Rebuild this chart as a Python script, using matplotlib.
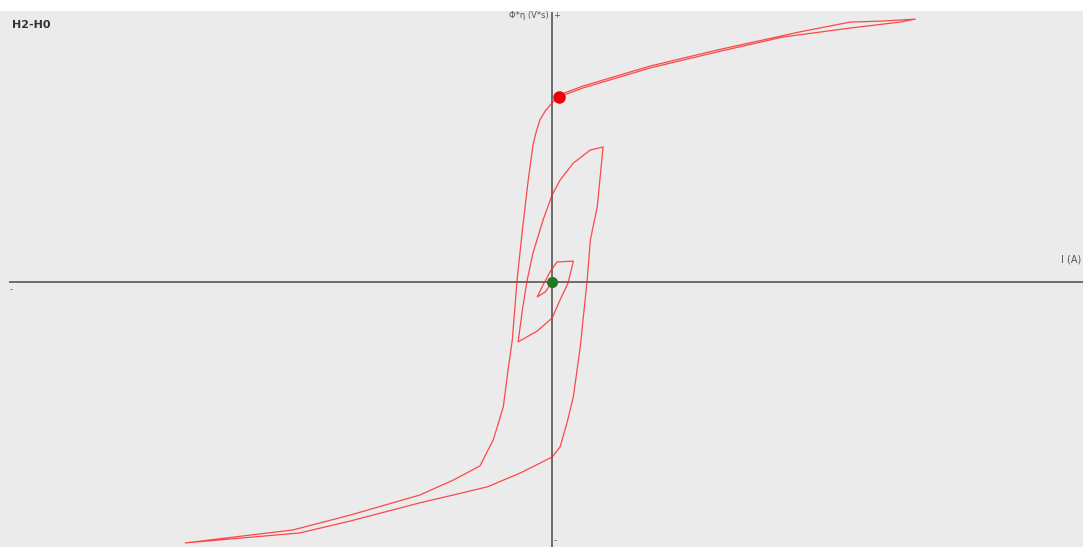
import matplotlib
matplotlib.use("Agg")
import matplotlib.pyplot as plt

# hysteresis sweep: current I (A) against flux linkage (V*s), one continuous path
current_a = [0.13, 0.58, 1.85, 3.11, 4.35, 5.61, 6.55, 6.84,
             6.23, 5.61, 4.67, 3.11, 1.85, 0.58, 0.13, 0.00, -0.13, -0.23, -0.30, -0.36,
             -0.45, -0.56, -0.66, -0.75, -0.83, -0.92, -1.04, -1.11, -1.36, -1.86, -2.49,
             -3.80, -4.88, -6.91,
             -4.75, -3.80, -2.49, -1.86, -1.22, -0.60, 0.00, 0.15, 0.28, 0.40, 0.53, 0.66,
             0.72, 0.85, 0.96,
             0.72, 0.40, 0.15, 0.00, -0.17, -0.36, -0.47, -0.56, -0.64,
             -0.28, 0.00, 0.15, 0.30, 0.40,
             0.09, -0.04, -0.17, -0.28,
             -0.13, 0.00]
flux_vs = [0.683, 0.716, 0.790, 0.849, 0.904, 0.937, 0.959, 0.970,
           0.963, 0.959, 0.923, 0.856, 0.797, 0.723, 0.690, 0.661, 0.631, 0.598, 0.554, 0.506,
           0.376, 0.192, 0.007, -0.214, -0.325, -0.461, -0.539, -0.583, -0.679, -0.731, -0.786,
           -0.860, -0.915, -0.963,
           -0.926, -0.882, -0.815, -0.786, -0.756, -0.705, -0.646, -0.609, -0.520, -0.424, -0.240, 0.007,
           0.155, 0.277, 0.498,
           0.487, 0.439, 0.376, 0.321, 0.229, 0.107, 0.007, -0.103, -0.221,
           -0.181, -0.133, -0.066, -0.004, 0.077,
           0.074, 0.037, -0.011, -0.055,
           -0.037, 0.000]

x_range = (-10.4, 10.0)
y_range = (-0.978, 1.0)

fig = plt.figure(figsize=(10.83, 5.47), dpi=100)
ax = fig.add_axes([0, 0, 1, 536 / 547])
ax.set_facecolor("#ebebeb")
for s in ax.spines.values():
    s.set_visible(False)
ax.set_xticks([])
ax.set_yticks([])
ax.set_xlim(*x_range)
ax.set_ylim(*y_range)

# axes through the origin
axis_col = "#6b6b6b"
ax.plot([x_range[0] + 0.19, x_range[1]], [0, 0], color=axis_col, lw=1.4, zorder=1)
ax.plot([0, 0], [y_range[0], y_range[1] - 0.006], color=axis_col, lw=1.4, zorder=1)

# sweep path, start point (red) and end point (green)
ax.plot(current_a, flux_vs, color="#ff2020", lw=0.9, alpha=0.8, zorder=2)
ax.plot(current_a[0], flux_vs[0], "o", color="#e8000b", ms=8, zorder=3)
ax.plot(current_a[-1], flux_vs[-1], "o", color="#1e7a1e", ms=7, zorder=3)

ax.text(0.011, 0.974, "H2-H0", transform=ax.transAxes, fontsize=8,
        fontweight="bold", color="#333333", va="center", ha="left")
ax.text(-0.06, 0.983, "Φ*η (V*s)", fontsize=6, color="#555555", va="center", ha="right")
ax.text(0.02, 0.985, "+", fontsize=6, color="#555555", va="center", ha="left")
ax.text(0.02, -0.955, "-", fontsize=6, color="#555555", va="center", ha="left")
ax.text(x_range[0] + 0.19, -0.03, "-", fontsize=6, color="#555555", va="center", ha="left")
ax.text(0.998, 0.537, "I (A)", transform=ax.transAxes, fontsize=7, color="#555555",
        va="center", ha="right")

fig.savefig("out.png", dpi=100, facecolor="white")
